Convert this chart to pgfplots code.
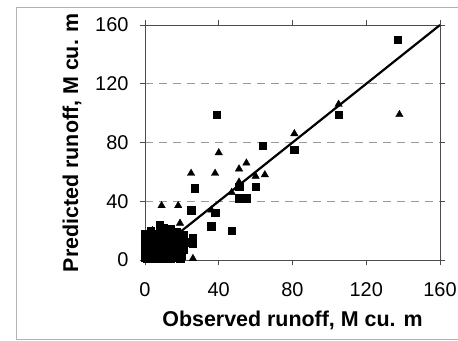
\documentclass[border=0pt]{standalone}
\usepackage{pgfplots}
\pgfplotsset{compat=1.18}
\usepackage{fontspec}
\setmainfont{Liberation Sans}
\begin{document}
\begin{tikzpicture}
\useasboundingbox (-145bp,-81bp) rectangle (313bp,260bp);
\draw[gray!60, line width=0.8bp] (313bp,253bp) -- (-129bp,253bp) -- (-129bp,-79bp) -- (313bp,-79bp);
\begin{axis}[
  at={(0,0)}, anchor=south west,
  scale only axis, width=295bp, height=235bp,
  xmin=0, xmax=160, ymin=0, ymax=160,
  xtick={0,40,80,120,160}, ytick={0,40,80,120,160},
  tick align=outside, major tick length=5bp,
  tick style={gray!60!black, line width=0.6bp},
  axis line style={gray!60!black, line width=0.6bp},
  ymajorgrids, grid style={gray!80, line width=0.6bp, dash pattern=on 8bp off 6bp},
  /pgf/number format/assume math mode=true,
  tick label style={font=\fontsize{20}{21}\selectfont},
  xticklabel style={anchor=center, yshift=-25bp},
  yticklabel style={anchor=east, xshift=-8bp},
  xlabel={Observed runoff, M cu. m},
  ylabel={Predicted runoff, M cu. m},
  every axis x label/.style={at={(axis description cs:0.5,-0.2583)}, anchor=center, font=\fontsize{21.5}{23}\selectfont\bfseries},
  every axis y label/.style={at={(axis description cs:-0.2475,0.5)}, anchor=center, rotate=90, font=\fontsize{21.5}{23}\selectfont\bfseries},
  clip=false,
]
\addplot[black, line width=2.2bp, no marks] coordinates {(0,0) (160,160)};
% squares
\addplot[only marks, mark=square*, mark size=3.7pt, black] coordinates {
(137,150) (39,99) (105,99) (64,78) (81,75) (27,49) (51,50) (60,50) (51,42) (55,42)
(25,34) (38,32) (36,23) (47,20) (8,24) (14,21) (26,15) (26,11) (21,7)
(0,18) (2,14) (3,10) (1,6) (2,2) (4,4) (5,8) (6,12) (7,16) (8,20) (10,22)
(9,3) (11,6) (12,10) (13,14) (15,18) (16,2) (17,6) (14,1) (5,1) (10,13)
(3,16) (12,17) (16,12) (18,9) (21,17) (20,3) (6,5) (1,1) (0,10) (7,1) (11,1) (4,13) (9,9) (15,8) (19,13) (22,12)
(0,2) (0,6) (0,14) (3,7) (5,11) (7,4) (8,7) (9,12) (10,16) (11,19) (13,4) (14,11) (16,15) (17,9) (18,4) (19,1) (2,18) (6,18) (4,1) (12,7) (15,4) (8,14) (3,20) (13,17) (17,19) (20,14)
};
% triangles
\addplot[only marks, mark=triangle*, mark size=4.3pt, black] coordinates {
(138,99) (105,106) (81,86) (40,73) (25,59) (38,59) (51,62) (55,66) (60,57) (65,58)
(51,53) (47,46) (9,37) (18,37) (19,25) (26,1) (36,34) (18,2)
(4,20) (7,9) (11,3) (13,8) (15,11) (9,18) (17,15) (20,10) (3,3) (6,14) (12,20) (1,12)
};
\end{axis}
\end{tikzpicture}
\end{document}
